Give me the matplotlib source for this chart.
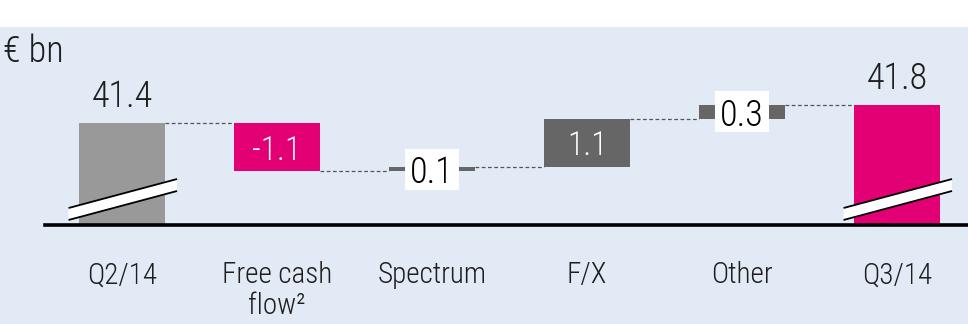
import matplotlib
matplotlib.use("Agg")
import matplotlib.pyplot as plt
from matplotlib.patches import Rectangle, Polygon
from matplotlib import font_manager

OUTPUT_IMG = "out.png"

# Net debt bridge, EUR bn
categories = ["Q2/14", "Free cash\nflow\u00b2", "Spectrum", "F/X", "Other", "Q3/14"]
values = [41.4, -1.1, 0.1, 1.1, 0.3, 41.8]
is_total = [True, False, False, False, False, True]
labels = ["41.4", "-1.1", "0.1", "1.1", "0.3", "41.8"]

MAGENTA = "#e20074"
DARK = "#666666"
LIGHT = "#999999"
BG = "#e2eaf5"
INK = "#1e1e1e"

# thin narrow face, first one that is installed
fonts = [(f.name, f.weight) for f in font_manager.fontManager.ttflist]
names = {n for n, _ in fonts}
FONT = next((n for n in ["Liberation Sans Narrow", "Roboto Condensed", "Roboto", "Open Sans"]
             if n in names), "DejaVu Sans")
light = any(n == FONT and w in (300, "light") for n, w in fonts)
plt.rcParams["font.family"] = [FONT, "DejaVu Sans"]
plt.rcParams["font.weight"] = "light" if light else "normal"

W, H = 968, 324
fig = plt.figure(figsize=(W / 100, H / 100), dpi=100)
fig.patch.set_facecolor("white")
fig.patches.append(Rectangle((0, 0), 1, 1 - 27 / H, transform=fig.transFigure,
                             facecolor=BG, edgecolor="none", zorder=-10))

ax = fig.add_axes([45 / W, (H - 225) / H, (W - 45) / W, (225 - 27) / H])
ax.set_facecolor("none")
for s in ax.spines.values():
    s.set_visible(False)

ybase = 39.08
ax.set_ylim(ybase, ybase + 4.5)
ax.set_xlim(-0.497, 5.458)
ax.set_yticks([])

bw = 0.56
colors = [LIGHT, MAGENTA, DARK, DARK, DARK, MAGENTA]

level = 0.0
tops = []
for i, (v, tot) in enumerate(zip(values, is_total)):
    if tot:
        bottom, height = ybase, v - ybase
        level = v
    else:
        bottom = level if v > 0 else level + v
        height = abs(v)
        level += v
    tops.append(level)
    ax.bar(i, height, bottom=bottom, width=bw, color=colors[i], zorder=2)

    if tot:
        ax.annotate(labels[i], (i, v), xytext=(0, 6), textcoords="offset points",
                    ha="center", va="bottom", fontsize=26, color=INK)
        # axis break band across the foot of the bar
        xl, xr = i - 0.345, i + 0.355
        lo = (ybase + 0.114, ybase + 0.773)
        hi = (ybase + 0.386, ybase + 1.045)
        ax.add_patch(Polygon([(xl, lo[0]), (xr, lo[1]), (xr, hi[1]), (xl, hi[0])],
                             closed=True, facecolor="white", edgecolor="none", zorder=3))
        ax.plot([xl, xr], lo, color="black", lw=1.3, zorder=4, solid_capstyle="butt")
        ax.plot([xl, xr], hi, color="black", lw=1.3, zorder=4, solid_capstyle="butt")
    else:
        mid = bottom + height / 2
        if height < 0.5:
            ax.add_patch(Rectangle((i - 0.175, mid - 0.465), 0.35, 0.93,
                                   facecolor="white", edgecolor="none", zorder=3))
            ax.text(i, mid, labels[i], ha="center", va="center_baseline",
                    fontsize=26, color="black", zorder=4)
        else:
            ax.text(i, mid, labels[i], ha="center", va="center_baseline",
                    fontsize=24, color="white", zorder=4)

# dashed connectors between neighbouring bars
for i in range(len(values) - 1):
    ax.plot([i + bw / 2, i + 1 - bw / 2], [tops[i], tops[i]], color="#555555",
            lw=0.9, ls=(0, (3, 2)), zorder=1)

ax.axhline(ybase, color="black", lw=2.6, zorder=5, clip_on=False)

ax.set_xticks(range(len(categories)))
ax.set_xticklabels(categories, fontsize=21, color=INK, linespacing=1.12, va="top")
ax.tick_params(axis="x", length=0, pad=26)

fig.text(3 / W, 1 - 52 / H, "\u20ac bn", fontsize=26, color=INK, va="center", ha="left")

fig.savefig(OUTPUT_IMG, dpi=100)
